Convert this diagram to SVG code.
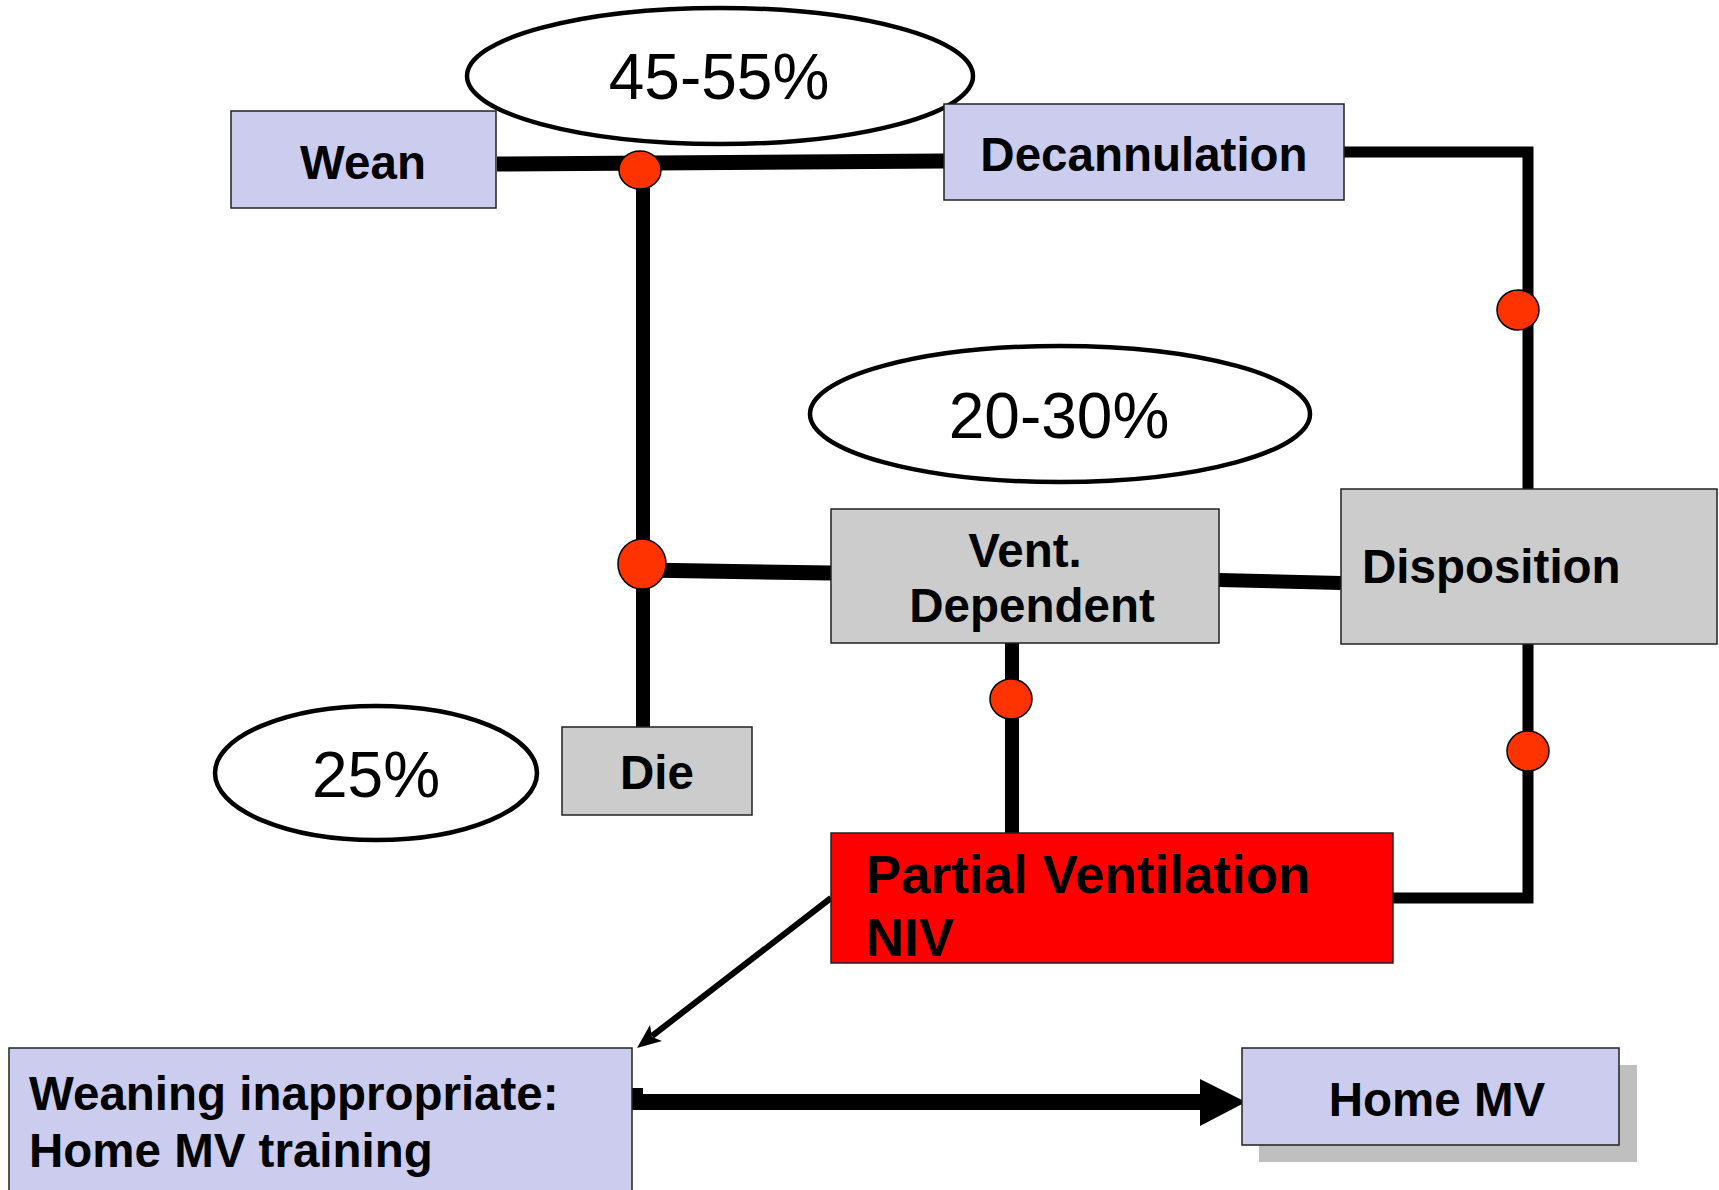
<svg xmlns="http://www.w3.org/2000/svg" width="1719" height="1190" viewBox="0 0 1719 1190">
<style>
.box{stroke:#222;stroke-width:1.5}
.lav{fill:#CCCCEE}
.gray{fill:#CCCCCC}
.red{fill:#FF0000}
.lbl{font-family:"Liberation Sans",Arial,sans-serif;font-weight:bold;font-size:47.5px;fill:#000}
.pct{font-family:"Liberation Sans",Arial,sans-serif;font-size:64px;fill:#000;text-anchor:middle}
.oval{fill:#fff;stroke:#000;stroke-width:4.5}
.con{fill:none;stroke:#000;stroke-linejoin:miter}
.dot{fill:#FF3300;stroke:#000;stroke-width:1.5}
</style>
<rect width="1719" height="1190" fill="#fff"/>
<g id="connectors">
  <path class="con" stroke-width="15" d="M497,164 L944,161"/>
  <path class="con" stroke-width="14" d="M643,170 L643,727"/>
  <path class="con" stroke-width="15" d="M643,570 L831,573"/>
  <path class="con" stroke-width="14" d="M1219,580 L1341,583"/>
  <path class="con" stroke-width="11" d="M1344,152 L1528,152 L1528,489"/>
  <path class="con" stroke-width="14" d="M1012,643 L1012,833"/>
  <path class="con" stroke-width="11" d="M1528,644 L1528,898 L1393,898"/>
  <path class="con" stroke-width="6" d="M831,898 L652,1036"/>
  <polygon points="637,1048 650,1025 652,1037 662,1041" fill="#000"/>
  <path class="con" stroke-width="16" d="M632,1102 L1205,1102"/>
  <rect x="632" y="1088" width="11" height="10" fill="#000"/>
  <polygon points="1200,1079 1246,1102 1200,1126" fill="#000"/>
</g>
<g id="oval-45-55">
  <ellipse class="oval" cx="720" cy="76" rx="253" ry="68"/>
  <text class="pct" x="719" y="99">45-55%</text>
</g>
<g id="oval-20-30">
  <ellipse class="oval" cx="1060" cy="414" rx="250" ry="68"/>
  <text class="pct" x="1059" y="438">20-30%</text>
</g>
<g id="oval-25">
  <ellipse class="oval" cx="376" cy="773" rx="161" ry="67"/>
  <text class="pct" x="376" y="797">25%</text>
</g>
<g id="wean">
  <rect class="box lav" x="231" y="111" width="265" height="97"/>
  <text class="lbl" x="363" y="179" text-anchor="middle">Wean</text>
</g>
<g id="decannulation">
  <rect class="box lav" x="944" y="104" width="400" height="96"/>
  <text class="lbl" x="1144" y="171" text-anchor="middle">Decannulation</text>
</g>
<g id="vent-dependent">
  <rect class="box gray" x="831" y="509" width="388" height="134"/>
  <text class="lbl" x="1025" y="567" text-anchor="middle">Vent.</text>
  <text class="lbl" x="1032" y="622" text-anchor="middle">Dependent</text>
</g>
<g id="disposition">
  <rect class="box gray" x="1341" y="489" width="376" height="155"/>
  <text class="lbl" x="1362" y="583">Disposition</text>
</g>
<g id="die">
  <rect class="box gray" x="562" y="727" width="190" height="88"/>
  <text class="lbl" x="657" y="789" text-anchor="middle">Die</text>
</g>
<g id="partial-ventilation">
  <rect class="box red" x="831" y="833" width="562" height="130"/>
  <text class="lbl" x="866" y="893" style="font-size:53px">Partial Ventilation</text>
  <text class="lbl" x="866" y="956" style="font-size:53px">NIV</text>
</g>
<g id="weaning-inappropriate">
  <rect class="box lav" x="9" y="1048" width="623" height="160"/>
  <text class="lbl" x="29" y="1110">Weaning inappropriate:</text>
  <text class="lbl" x="29" y="1167">Home MV training</text>
</g>
<g id="home-mv">
  <rect x="1259" y="1065" width="378" height="97" fill="#BFBFBF"/>
  <rect class="box lav" x="1242" y="1048" width="377" height="97"/>
  <text class="lbl" x="1437" y="1116" text-anchor="middle">Home MV</text>
</g>
<g id="junctions">
  <ellipse class="dot" cx="640" cy="170" rx="21" ry="19"/>
  <ellipse class="dot" cx="642" cy="564" rx="24" ry="25"/>
  <ellipse class="dot" cx="1518" cy="310" rx="21" ry="20"/>
  <ellipse class="dot" cx="1011" cy="699" rx="21" ry="20"/>
  <ellipse class="dot" cx="1528" cy="751" rx="21" ry="20"/>
</g>
</svg>
